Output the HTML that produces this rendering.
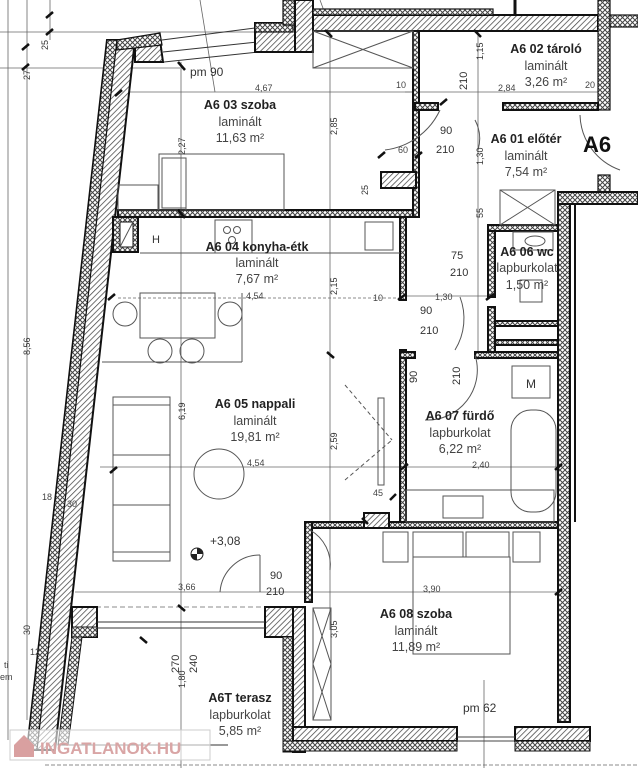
<!DOCTYPE html>
<html><head><meta charset="utf-8"><style>
html,body{margin:0;padding:0;background:#fff;}
svg{display:block;}
text{font-family:"Liberation Sans",sans-serif;fill:#333;}
.t{font-weight:bold;font-size:12.5px;fill:#222;text-anchor:middle;}
.s{font-size:12.5px;fill:#444;text-anchor:middle;}
.d{font-size:9px;fill:#444;}
</style></head><body>
<svg width="638" height="768" viewBox="0 0 638 768" xmlns="http://www.w3.org/2000/svg">
<defs>
<pattern id="h" width="4" height="4" patternUnits="userSpaceOnUse" patternTransform="rotate(45)">
<rect width="4" height="4" fill="#fff"/><line x1="0" y1="0" x2="0" y2="4" stroke="#444" stroke-width="1.5"/></pattern>
<pattern id="x" width="5" height="5" patternUnits="userSpaceOnUse">
<rect width="5" height="5" fill="#fff"/><path d="M0 0L5 5M5 0L0 5" stroke="#444" stroke-width="1"/></pattern>
</defs>
<rect width="638" height="768" fill="#fff"/>

<g stroke="#666" stroke-width="0.8" fill="none">
<line x1="8" y1="0" x2="8" y2="740"/>
<line x1="27" y1="0" x2="27" y2="720"/>
<line x1="50" y1="0" x2="50" y2="40"/>
<line x1="0" y1="32" x2="300" y2="32"/>
<line x1="0" y1="68" x2="180" y2="68"/>
<line x1="181" y1="62" x2="181" y2="768"/>
<line x1="330" y1="30" x2="330" y2="630"/>
<line x1="130" y1="92" x2="413" y2="92"/>
<line x1="405" y1="92" x2="598" y2="92"/>
<line x1="478" y1="30" x2="478" y2="360"/>
<line x1="118" y1="298" x2="400" y2="298" stroke-dasharray="3 2"/>
<line x1="405" y1="296" x2="490" y2="296"/>
<line x1="100" y1="467" x2="400" y2="467"/>
<line x1="406" y1="467" x2="570" y2="467"/>
<line x1="75" y1="592" x2="305" y2="592"/>
<line x1="312" y1="592" x2="570" y2="592"/>
<line x1="320" y1="0" x2="331" y2="30" />
<line x1="200" y1="0" x2="215" y2="92"/>
<line x1="45" y1="765" x2="638" y2="765" stroke-dasharray="4 2"/>
<line x1="484" y1="680" x2="484" y2="768"/>
<line x1="96" y1="607" x2="265" y2="607" stroke-dasharray="5 3"/>
</g>

<polygon points="107,40 135,40 55,750 27,750" fill="url(#h)" stroke="#111" stroke-width="2"/>
<polygon points="107,40 117,40 37,750 27,750" fill="url(#x)" stroke="#111" stroke-width="1.2"/>
<polygon points="135,62 163,62 160,40 135,40" fill="url(#h)" stroke="#111" stroke-width="2"/>
<polygon points="117,40 160,33 162,45 117,50" fill="url(#x)" stroke="#111" stroke-width="1.2"/>
<line x1="162" y1="40" x2="255" y2="28" stroke="#333" stroke-width="1"/>
<line x1="163" y1="52" x2="257" y2="42" stroke="#333" stroke-width="1"/>
<line x1="164" y1="62" x2="258" y2="52" stroke="#333" stroke-width="1"/>
<rect x="255" y="23" width="58" height="29" fill="url(#h)" stroke="#111" stroke-width="2"/>
<rect x="255" y="23" width="38" height="9" fill="url(#x)" stroke="#111" stroke-width="1.2"/>
<rect x="283" y="0" width="12" height="25" fill="url(#x)" stroke="#111" stroke-width="1.2"/>
<rect x="295" y="0" width="18" height="52" fill="url(#h)" stroke="#111" stroke-width="2"/>
<rect x="313" y="15" width="285" height="16" fill="url(#h)" stroke="#111" stroke-width="2"/>
<rect x="313" y="9" width="180" height="6" fill="url(#x)" stroke="#111" stroke-width="1.2"/>
<line x1="515" y1="0" x2="515" y2="15" stroke="#111" stroke-width="3"/>
<rect x="598" y="0" width="12" height="110" fill="url(#x)" stroke="#111" stroke-width="1.2"/>
<rect x="598" y="175" width="12" height="20" fill="url(#x)" stroke="#111" stroke-width="1.2"/>
<rect x="610" y="15" width="28" height="12" fill="url(#x)" stroke="#111" stroke-width="1.2"/>

<g fill="url(#x)" stroke="#111" stroke-width="2">
<rect x="118" y="210" width="297" height="7"/>
<rect x="413" y="31" width="6" height="186"/>
<rect x="415" y="103" width="23" height="7"/>
<rect x="503" y="103" width="95" height="7"/>
<rect x="400" y="217" width="6" height="83"/>
<rect x="488" y="225" width="7" height="72"/>
<rect x="488" y="307" width="7" height="50"/>
<rect x="488" y="225" width="70" height="6"/>
<rect x="495" y="321" width="63" height="5"/>
<rect x="495" y="340" width="63" height="5"/>
<rect x="400" y="350" width="6" height="175"/>
<rect x="400" y="352" width="15" height="6"/>
<rect x="475" y="352" width="83" height="6"/>
<rect x="305" y="522" width="253" height="6"/>
<rect x="305" y="522" width="7" height="80"/>
<rect x="113" y="217" width="25" height="35"/>
</g>
<rect x="120" y="222" width="13" height="25" fill="#fff" stroke="#111"/>
<line x1="120" y1="247" x2="133" y2="222" stroke="#555"/>
<rect x="381" y="172" width="35" height="16" fill="url(#h)" stroke="#111" stroke-width="2"/>
<rect x="364" y="513" width="25" height="15" fill="url(#h)" stroke="#111" stroke-width="2"/>
<rect x="558" y="192" width="12" height="530" fill="url(#x)" stroke="#111" stroke-width="2"/>
<rect x="558" y="192" width="80" height="12" fill="url(#x)" stroke="#111" stroke-width="2"/>
<line x1="575" y1="204" x2="575" y2="522" stroke="#111" stroke-width="2"/>

<rect x="72" y="607" width="25" height="30" fill="url(#h)" stroke="#111" stroke-width="2"/>
<rect x="72" y="627" width="25" height="10" fill="url(#x)" stroke="#111"/>
<rect x="265" y="607" width="30" height="30" fill="url(#h)" stroke="#111" stroke-width="2"/>
<line x1="97" y1="622" x2="265" y2="622" stroke="#333"/>
<line x1="97" y1="628" x2="265" y2="628" stroke="#333"/>
<polygon points="72,637 82,637 68,745 58,745" fill="url(#x)" stroke="#111"/>
<rect x="283" y="637" width="10" height="115" fill="url(#x)" stroke="#111"/>
<rect x="293" y="607" width="12" height="145" fill="url(#h)" stroke="#111" stroke-width="2"/>
<rect x="293" y="727" width="164" height="14" fill="url(#h)" stroke="#111" stroke-width="2"/>
<rect x="283" y="741" width="174" height="10" fill="url(#x)" stroke="#111"/>
<rect x="515" y="727" width="75" height="14" fill="url(#h)" stroke="#111" stroke-width="2"/>
<rect x="515" y="741" width="75" height="10" fill="url(#x)" stroke="#111"/>
<line x1="457" y1="737" x2="515" y2="737" stroke="#444"/>
<line x1="457" y1="741" x2="515" y2="741" stroke="#444"/>
<line x1="68" y1="745" x2="228" y2="745" stroke="#333"/>

<g fill="none" stroke="#555" stroke-width="1">
<rect x="159" y="154" width="125" height="56"/>
<rect x="162" y="158" width="24" height="50"/>
<rect x="118" y="185" width="40" height="25"/>
<line x1="186" y1="158" x2="186" y2="210"/>
<rect x="215" y="220" width="37" height="33"/>
<circle cx="227" cy="230" r="3.5"/><circle cx="237" cy="230" r="3.5"/><circle cx="232" cy="240" r="3.5"/>
<line x1="140" y1="253" x2="400" y2="253"/>
<rect x="365" y="222" width="28" height="28"/>
<rect x="140" y="293" width="75" height="45"/>
<circle cx="125" cy="314" r="12"/><circle cx="230" cy="314" r="12"/>
<circle cx="160" cy="351" r="12"/><circle cx="192" cy="351" r="12"/>
<line x1="102" y1="362" x2="242" y2="362"/>
<line x1="242" y1="293" x2="242" y2="362"/>
<rect x="113" y="397" width="57" height="164"/>
<line x1="113" y1="405" x2="170" y2="405"/><line x1="113" y1="455" x2="170" y2="455"/>
<line x1="113" y1="505" x2="170" y2="505"/><line x1="113" y1="552" x2="170" y2="552"/>
<circle cx="219" cy="474" r="25"/>
<rect x="378" y="398" width="6" height="87"/>
<line x1="345" y1="385" x2="392" y2="440" stroke-dasharray="4 3"/>
<line x1="345" y1="480" x2="392" y2="440" stroke-dasharray="4 3"/>
<rect x="512" y="366" width="38" height="32"/>
<rect x="511" y="410" width="45" height="102" rx="20"/>
<rect x="406" y="490" width="148" height="32"/>
<rect x="443" y="496" width="40" height="22"/>
<rect x="383" y="532" width="25" height="30"/><rect x="413" y="532" width="50" height="25"/>
<rect x="466" y="532" width="43" height="25"/><rect x="513" y="532" width="27" height="30"/>
<rect x="413" y="557" width="97" height="97"/>
<rect x="513" y="232" width="40" height="18"/><ellipse cx="535" cy="241" rx="10" ry="5"/>
<rect x="520" y="280" width="22" height="22"/>
<rect x="313" y="608" width="18" height="112"/>
<path d="M313 608L331 664L313 720M331 608L313 664L331 720"/>
<rect x="313" y="31" width="100" height="37"/>
<path d="M313 31L413 68M413 31L313 68"/>
<rect x="500" y="190" width="55" height="35"/>
<path d="M500 190L555 225M555 190L500 225"/>
<path d="M440 110 A70 70 0 0 1 385 150"/>
<path d="M475 120 A40 40 0 0 1 478 150"/>
<path d="M460 297 A60 60 0 0 1 455 350"/>
<path d="M260 555 A40 40 0 0 0 220 592"/>
<line x1="260" y1="555" x2="260" y2="592"/>
<path d="M475 355 A50 50 0 0 1 425 420"/>
<path d="M310 530 A40 40 0 0 1 330 570"/>
<path d="M580 115 A60 60 0 0 0 620 170"/>
</g>

<circle cx="197" cy="554" r="6" fill="none" stroke="#222"/>
<path d="M197 548A6 6 0 0 1 203 554L197 554Z M197 560A6 6 0 0 1 191 554L197 554Z" fill="#222"/>
<text x="210" y="545" style="font-size:12px">+3,08</text>

<g stroke="#111" stroke-width="2.5">
<line x1="46" y1="18" x2="53" y2="12"/><line x1="46" y1="35" x2="53" y2="29"/>
<line x1="22" y1="50" x2="29" y2="44"/><line x1="22" y1="70" x2="29" y2="64"/>
<line x1="178" y1="62" x2="185" y2="70"/><line x1="115" y1="96" x2="122" y2="90"/>
<line x1="178" y1="210" x2="185" y2="218"/><line x1="108" y1="300" x2="115" y2="294"/>
<line x1="110" y1="473" x2="117" y2="467"/><line x1="327" y1="352" x2="334" y2="358"/>
<line x1="398" y1="300" x2="406" y2="294"/><line x1="486" y1="300" x2="494" y2="294"/>
<line x1="400" y1="470" x2="408" y2="464"/><line x1="555" y1="470" x2="562" y2="464"/>
<line x1="555" y1="595" x2="562" y2="589"/><line x1="178" y1="605" x2="185" y2="611"/>
<line x1="140" y1="637" x2="147" y2="643"/><line x1="440" y1="105" x2="447" y2="99"/>
<line x1="325" y1="30" x2="332" y2="37"/><line x1="474" y1="30" x2="481" y2="37"/>
<line x1="378" y1="158" x2="385" y2="152"/><line x1="415" y1="158" x2="422" y2="152"/>
<line x1="362" y1="518" x2="368" y2="524"/><line x1="390" y1="500" x2="396" y2="494"/>
</g>

<text class="t" x="240" y="109">A6 03 szoba</text>
<text class="s" x="240" y="126">laminált</text>
<text class="s" x="240" y="142">11,63 m²</text>
<text class="t" x="257" y="251">A6 04 konyha-étk</text>
<text class="s" x="257" y="267">laminált</text>
<text class="s" x="257" y="283">7,67 m²</text>
<text class="t" x="255" y="408">A6 05 nappali</text>
<text class="s" x="255" y="425">laminált</text>
<text class="s" x="255" y="441">19,81 m²</text>
<text class="t" x="546" y="53">A6 02 tároló</text>
<text class="s" x="546" y="70">laminált</text>
<text class="s" x="546" y="86">3,26 m²</text>
<text class="t" x="526" y="143">A6 01 előtér</text>
<text class="s" x="526" y="160">laminált</text>
<text class="s" x="526" y="176">7,54 m²</text>
<text class="t" x="527" y="256">A6 06 wc</text>
<text class="s" x="527" y="272">lapburkolat</text>
<text class="s" x="527" y="289">1,50 m²</text>
<text class="t" x="460" y="420">A6 07 fürdő</text>
<text class="s" x="460" y="437">lapburkolat</text>
<text class="s" x="460" y="453">6,22 m²</text>
<text class="t" x="416" y="618">A6 08 szoba</text>
<text class="s" x="416" y="635">laminált</text>
<text class="s" x="416" y="651">11,89 m²</text>
<text class="t" x="240" y="702">A6T terasz</text>
<text class="s" x="240" y="719">lapburkolat</text>
<text class="s" x="240" y="735">5,85 m²</text>
<text x="583" y="152" style="font-size:22px;font-weight:bold;fill:#111">A6</text>
<text x="526" y="388" style="font-size:12px;fill:#333">M</text>
<text x="152" y="243" style="font-size:11px">H</text>
<text x="190" y="76" style="font-size:12px">pm 90</text>
<text x="463" y="712" style="font-size:12px">pm 62</text>

<g class="d">
<text x="255" y="91" class="d">4,67</text>
<text x="246" y="299" class="d">4,54</text>
<text x="247" y="466" class="d">4,54</text>
<text x="178" y="590" class="d">3,66</text>
<text x="423" y="592" class="d">3,90</text>
<text x="472" y="468" class="d">2,40</text>
<text x="498" y="91" class="d">2,84</text>
<text x="398" y="153" class="d">60</text>
<text x="435" y="300" class="d">1,30</text>
<text x="373" y="496" class="d">45</text>
<text x="373" y="301" class="d">10</text>
<text x="396" y="88" class="d">10</text>
<text x="585" y="88" class="d">20</text>
<text x="42" y="500" class="d">18</text>
<text x="67" y="507" class="d">30</text>
<text x="4" y="668" class="d">ti</text>
<text x="0" y="680" class="d">em</text>
<text x="30" y="655" class="d">12</text>
<text x="270" y="579" style="font-size:11px">90</text>
<text x="266" y="583" style="font-size:11px" dy="12">210</text>
<text x="440" y="134" style="font-size:11px">90</text>
<text x="436" y="153" style="font-size:11px">210</text>
<text x="420" y="314" style="font-size:11px">90</text>
<text x="420" y="334" style="font-size:11px">210</text>
<text x="451" y="259" style="font-size:11px">75</text>
<text x="450" y="276" style="font-size:11px">210</text>
</g>
<g font-size="9" fill="#444">
<text transform="translate(185,155) rotate(-90)">2,27</text>
<text transform="translate(337,135) rotate(-90)">2,85</text>
<text transform="translate(337,295) rotate(-90)">2,15</text>
<text transform="translate(337,450) rotate(-90)">2,59</text>
<text transform="translate(185,420) rotate(-90)">6,19</text>
<text transform="translate(30,355) rotate(-90)">8,56</text>
<text transform="translate(30,80) rotate(-90)">27</text>
<text transform="translate(48,50) rotate(-90)">25</text>
<text transform="translate(185,688) rotate(-90)">1,80</text>
<text transform="translate(337,638) rotate(-90)">3,05</text>
<text transform="translate(483,60) rotate(-90)">1,15</text>
<text transform="translate(483,218) rotate(-90)">55</text>
<text transform="translate(483,165) rotate(-90)">1,30</text>
<text transform="translate(368,195) rotate(-90)">25</text>
<text transform="translate(30,635) rotate(-90)">30</text>
<text font-size="11" transform="translate(179,673) rotate(-90)">270</text>
<text font-size="11" transform="translate(197,673) rotate(-90)">240</text>
<text font-size="11" transform="translate(417,383) rotate(-90)">90</text>
<text font-size="11" transform="translate(460,385) rotate(-90)">210</text>
<text font-size="11" transform="translate(467,90) rotate(-90)">210</text>
</g>

<rect x="10" y="730" width="200" height="30" fill="#fff" fill-opacity="0.6" stroke="#ccc"/>
<path d="M14 745L24 735L34 745L34 757L14 757Z" fill="#d9a0a0"/>
<text x="40" y="754" style="font-size:17px;font-weight:bold;fill:#d9a5a5">INGATLANOK.HU</text>
</svg>
</body></html>
